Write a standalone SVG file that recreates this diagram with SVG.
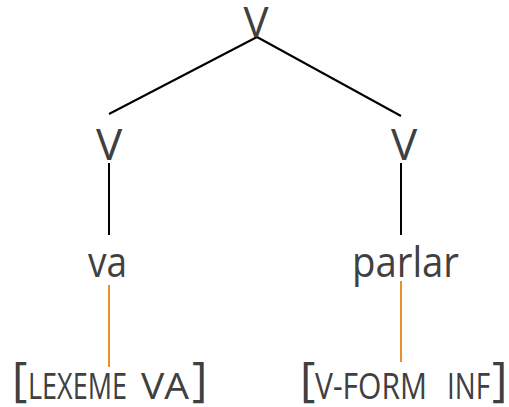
<svg xmlns="http://www.w3.org/2000/svg" width="509" height="407" viewBox="0 0 509 407">
<style>
.t{font-family:"Open Sans","Liberation Sans",sans-serif;fill:#404040}
.big{font-size:44px}
.word{font-size:42px}
.sc{font-size:36px}
.br{font-size:47px}
.e{stroke:#000;stroke-width:2;fill:none}
.o{stroke:#E8912A;stroke-width:2;fill:none}
</style>
<rect width="509" height="407" fill="#fff"/>
<g id="connectors">
<line class="e" x1="257" y1="37" x2="109" y2="114"/>
<line class="e" x1="257" y1="37" x2="401" y2="116"/>
<line class="e" x1="109" y1="163" x2="109" y2="235"/>
<line class="e" x1="401" y1="163" x2="401" y2="235"/>
<line class="o" x1="109" y1="285" x2="109" y2="367"/>
<line class="o" x1="401" y1="281" x2="401" y2="362"/>
</g>
<g id="root"><text class="t" style="font-size:42px" x="256" y="37" text-anchor="middle">V</text></g>
<g id="v-left"><text class="t big" x="109" y="160" text-anchor="middle">V</text></g>
<g id="v-right"><text class="t big" x="404" y="160" text-anchor="middle">V</text></g>
<g id="va"><text class="t word" x="88" y="277" textLength="39" lengthAdjust="spacingAndGlyphs">va</text></g>
<g id="parlar"><text class="t word" x="352" y="277" textLength="107" lengthAdjust="spacingAndGlyphs">parlar</text></g>
<g id="feat-left">
<text class="t br" x="12" y="396">[</text>
<text class="t sc" x="28" y="399" textLength="99" lengthAdjust="spacingAndGlyphs">LEXEME</text>
<text class="t sc" x="141" y="399" textLength="48" lengthAdjust="spacingAndGlyphs">VA</text>
<text class="t br" x="192" y="396">]</text>
</g>
<g id="feat-right">
<text class="t br" x="300" y="396">[</text>
<text class="t sc" x="315" y="399" textLength="112" lengthAdjust="spacingAndGlyphs">V-FORM</text>
<text class="t sc" x="447" y="399" textLength="43" lengthAdjust="spacingAndGlyphs">INF</text>
<text class="t br" x="492" y="396">]</text>
</g>
</svg>
